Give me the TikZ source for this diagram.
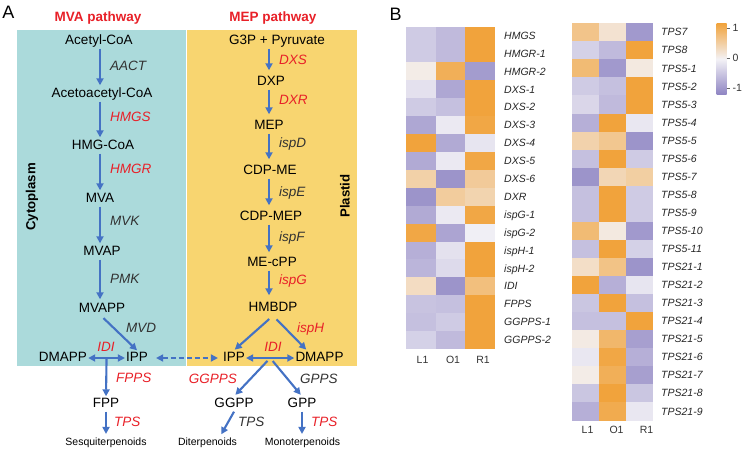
\documentclass[tikz,border=0pt]{standalone}
\usepackage{fontspec}
\setmainfont{Liberation Sans}
\usetikzlibrary{arrows.meta,calc}

\definecolor{teal1}{RGB}{171,218,219}
\definecolor{yell1}{RGB}{248,213,112}
\definecolor{redt}{RGB}{232,32,40}
\definecolor{enz}{RGB}{50,50,50}
\definecolor{arrb}{RGB}{68,114,196}
\definecolor{hmorange}{RGB}{241,163,60}
\definecolor{hmpurple}{RGB}{141,131,194}
\definecolor{hmwhite}{RGB}{243,242,246}

\newcommand\hmcell[5]{% x y w h v
  \ifnum#5<0
    \edef\hmp{\the\numexpr 0-#5\relax}%
    \fill[hmpurple!\hmp!hmwhite] (#1,#2) rectangle ++(#3+0.3,#4+0.3);
  \else
    \fill[hmorange!#5!hmwhite] (#1,#2) rectangle ++(#3+0.3,#4+0.3);
  \fi}

\begin{document}
\begin{tikzpicture}[x=1pt,y=-1pt,
  met/.style={font=\fontsize{13.5}{15}\selectfont, inner sep=1pt, text height=10pt, text depth=3pt},
  enzr/.style={font=\fontsize{13.5}{15}\selectfont\itshape, text=redt, inner sep=0pt, text height=10pt, text depth=3pt, anchor=west},
  enzk/.style={enzr, text=enz},
  ptitle/.style={font=\fontsize{13.5}{15}\selectfont\bfseries, text=redt, inner sep=1pt},
  prod/.style={font=\fontsize{10.5}{12}\selectfont, inner sep=1pt, text height=7.5pt, text depth=2.2pt},
  arr/.style={draw=arrb, line width=2.1pt, -{Triangle[length=7pt,width=7pt]}},
  darr/.style={draw=arrb, line width=2.1pt, {Triangle[length=7pt,width=7pt]}-{Triangle[length=7pt,width=7pt]}},
  comp/.style={font=\fontsize{13.2}{15}\selectfont\bfseries, rotate=90, inner sep=0pt},
  hmlab/.style={font=\fontsize{10.5}{12}\selectfont\itshape, anchor=west, inner sep=0pt, text=black!85, text height=7.5pt, text depth=2.2pt},
  collab/.style={font=\fontsize{10.5}{12}\selectfont, inner sep=0pt, text=black!80, text height=7.5pt, text depth=2.2pt},
  panel/.style={font=\fontsize{18}{20}\selectfont, inner sep=0pt},
]
\useasboundingbox (0,0) rectangle (744,449);

% backgrounds
\fill[teal1] (17,30) rectangle (185.5,366);
\fill[yell1] (187,30) rectangle (357,366);

\node[panel] (pA) at (8.5,12) {A};
\node[panel] (pB) at (395.5,14) {B};

% ---------- MVA pathway ----------
\coordinate (mvx) at (100,0);
\node[ptitle] (mvat) at (98,18) {MVA pathway};
\node[met] (acetyl) at (99,41) {Acetyl-CoA};
\node[met] (acac) at (102,94) {Acetoacetyl-CoA};
\node[met] (hmgcoa) at (103,146) {HMG-CoA};
\node[met] (mva) at (100,199) {MVA};
\node[met] (mvap) at (102,252) {MVAP};
\node[met] (mvapp) at (102,309) {MVAPP};
\node[met] (dmapp1) at (63,358) {DMAPP};
\node[met] (ipp1) at (137,358) {IPP};
\node[met] (fpp) at (106,404) {FPP};
\node[prod] (sesq) at (106,443) {Sesquiterpenoids};

\node[enzk] (aact) at (110,67) {AACT};
\node[enzr] (hmgs) at (110,118) {HMGS};
\node[enzr] (hmgr) at (110,170) {HMGR};
\node[enzk] (mvk) at (110,222) {MVK};
\node[enzk] (pmk) at (110,280) {PMK};
\node[enzk] (mvd) at (126,329) {MVD};
\node[enzr, anchor=center] (idi1) at (106,348) {IDI};
\node[enzr] (fpps) at (116,379) {FPPS};
\node[enzr] (tps1) at (114,423) {TPS};

\node[comp] (cyto) at (32,197) {Cytoplasm};

\draw[arr, shorten >=1pt] (acetyl.south -| mvx) -- (acac.north -| mvx);
\draw[arr, shorten >=1pt] (acac.south -| mvx) -- (hmgcoa.north -| mvx);
\draw[arr, shorten >=1pt] (hmgcoa.south -| mvx) -- (mva.north -| mvx);
\draw[arr, shorten >=1pt] (mva.south -| mvx) -- (mvap.north -| mvx);
\draw[arr, shorten >=2pt] (mvap.south -| mvx) -- (mvapp.north -| mvx);
\draw[arr, shorten <=2pt] (mvapp.south) -- (ipp1.north);
\draw[darr] (dmapp1.east) -- (ipp1.west);
\coordinate (idm1) at ($(dmapp1.east)!0.5!(ipp1.west)$);
\draw[arr] (idm1) -- (fpp.north);
\draw[arr, shorten >=3pt] (fpp.south) -- (sesq.north);

% ---------- MEP pathway ----------
\coordinate (mepx) at (269,0);
\node[ptitle] (mept) at (273,18) {MEP pathway};
\node[met] (g3p) at (277,41) {G3P + Pyruvate};
\node[met] (dxp) at (271,82) {DXP};
\node[met] (mep) at (269,126) {MEP};
\node[met] (cdpme) at (270,171) {CDP-ME};
\node[met] (cdpmep) at (271,217) {CDP-MEP};
\node[met] (mecpp) at (272,263) {ME-cPP};
\node[met] (hmbdp) at (273,308) {HMBDP};
\node[met] (ipp2) at (234,358) {IPP};
\node[met] (dmapp2) at (319.5,358) {DMAPP};
\node[met] (ggpp) at (234,404) {GGPP};
\node[met] (gpp) at (302,404) {GPP};
\node[prod] (diterp) at (207.5,443) {Diterpenoids};
\node[prod] (monoterp) at (302.5,443) {Monoterpenoids};

\node[enzr] (dxs) at (279,61) {DXS};
\node[enzr] (dxr) at (279,101) {DXR};
\node[enzk] (ispd) at (279,144) {ispD};
\node[enzk] (ispe) at (279,193) {ispE};
\node[enzk] (ispf) at (279,238) {ispF};
\node[enzr] (ispg) at (279,281) {ispG};
\node[enzr] (isph) at (297,329) {ispH};
\node[enzr, anchor=center] (idi2) at (273,348) {IDI};
\node[enzr, anchor=east] (ggpps) at (237,380) {GGPPS};
\node[enzk] (gpps) at (300,380) {GPPS};
\node[enzk] (tps2) at (238,423) {TPS};
\node[enzr] (tps3) at (311,423) {TPS};

\node[comp] (plastid) at (345,196) {Plastid};

\draw[arr, shorten >=4pt] (g3p.south -| mepx) -- (dxp.north -| mepx);
\draw[arr, shorten >=4pt] (dxp.south -| mepx) -- (mep.north -| mepx);
\draw[arr, shorten >=4pt] (mep.south -| mepx) -- (cdpme.north -| mepx);
\draw[arr, shorten >=4pt] (cdpme.south -| mepx) -- (cdpmep.north -| mepx);
\draw[arr, shorten >=3pt] (cdpmep.south -| mepx) -- (mecpp.north -| mepx);
\draw[arr, shorten >=5pt] (mecpp.south -| mepx) -- (hmbdp.north -| mepx);
\draw[arr, shorten <=5pt, shorten >=1pt] (hmbdp.south) -- (ipp2.north);
\draw[arr, shorten <=5pt, shorten >=1pt] (hmbdp.south) -- ($(dmapp2.north)!0.5!(dmapp2.north west)$);
\draw[darr] (ipp2.east) -- (dmapp2.west);
\coordinate (idm2) at ($(ipp2.east)!0.5!(dmapp2.west)$);
\draw[arr, shorten <=4pt, shorten >=2pt] (idm2) -- (ggpp.north);
\draw[arr, shorten <=4pt, shorten >=2pt] (idm2) -- (gpp.north);
\draw[arr, shorten >=3pt] (ggpp.south) -- ($(diterp.north)!0.4!(diterp.north east)$);
\draw[arr, shorten >=3pt] (gpp.south) -- (monoterp.north -| gpp);

% shuttle
\draw[darr, dash pattern=on 5pt off 3pt, shorten <=7pt, shorten >=4pt] (ipp1.east) -- (ipp2.west);

% ---------- Heatmap 1 ----------
\foreach \lab/\a/\b/\c [count=\i] in {
  HMGS/-35/-50/100, HMGR-1/-35/-50/100, HMGR-2/8/85/-78,
  DXS-1/-15/-68/100, DXS-2/-35/-45/100, DXS-3/-68/-8/95,
  DXS-4/100/-65/-12, DXS-5/-65/-8/95, DXS-6/42/-85/50,
  DXR/-85/48/38, ispG-1/-65/-8/95, ispG-2/95/-70/-3,
  ispH-1/-60/-15/100, ispH-2/-55/-22/100, IDI/28/-85/65,
  FPPS/-42/-45/100, GGPPS-1/-45/-35/100, GGPPS-2/-30/-50/100}{
  \pgfmathsetmacro\yy{26.7+(\i-1)*17.9}
  \hmcell{406}{\yy}{29.7}{17.9}{\a}
  \hmcell{435.7}{\yy}{29.7}{17.9}{\b}
  \hmcell{465.4}{\yy}{29.7}{17.9}{\c}
  \node[hmlab] (ha\i) at (504,\yy+10) {\lab};
}
\node[collab] (ha-l) at (422.5,361) {L1};
\node[collab] (ha-o) at (453,361) {O1};
\node[collab] (ha-r) at (483,361) {R1};

% ---------- Heatmap 2 ----------
\foreach \lab/\a/\b/\c [count=\i] in {
  TPS7/58/20/-80, TPS8/-30/-50/100, TPS5-1/70/-80/12,
  TPS5-2/-35/-45/100, TPS5-3/-25/-50/100, TPS5-4/-60/100/-10,
  TPS5-5/40/55/-85, TPS5-6/-45/100/-35, TPS5-7/-85/35/45,
  TPS5-8/-45/100/-35, TPS5-9/-45/100/-35, TPS5-10/70/12/-80,
  TPS5-11/-45/100/-30, TPS21-1/25/60/-85, TPS21-2/100/-60/-12,
  TPS21-3/-40/100/-45, TPS21-4/-45/-45/100, TPS21-5/10/75/-75,
  TPS21-6/-10/95/-60, TPS21-7/8/85/-75, TPS21-8/-40/100/-40,
  TPS21-9/-60/90/-10}{
  \pgfmathsetmacro\yy{23.3+(\i-1)*18.05}
  \hmcell{572}{\yy}{27}{18.05}{\a}
  \hmcell{599}{\yy}{27}{18.05}{\b}
  \hmcell{626}{\yy}{27}{18.05}{\c}
  \node[hmlab] (hb\i) at (661,\yy+10) {\lab};
}
\node[collab] (hb-l) at (587.5,431) {L1};
\node[collab] (hb-o) at (616.5,431) {O1};
\node[collab] (hb-r) at (646.5,431) {R1};

% ---------- colour bar ----------
\shade[top color=hmorange, bottom color=hmpurple, middle color=hmwhite] (716.5,23.3) rectangle (726.5,95);
\node[collab, anchor=west] (cb1) at (732.5,29) {1};
\node[collab, anchor=west] (cb0) at (732.5,58.5) {0};
\node[collab, anchor=west] (cbm) at (732.5,88.5) {-1};
\coordinate (tk1) at (726.5,28.5);
\coordinate (tk0) at (726.5,58);
\coordinate (tkm) at (726.5,88);
\draw[black!60, line width=0.6pt] (tk1) -- ++(3,0);
\draw[black!60, line width=0.6pt] (tk0) -- ++(3,0);
\draw[black!60, line width=0.6pt] (tkm) -- ++(3,0);
\end{tikzpicture}
\end{document}
